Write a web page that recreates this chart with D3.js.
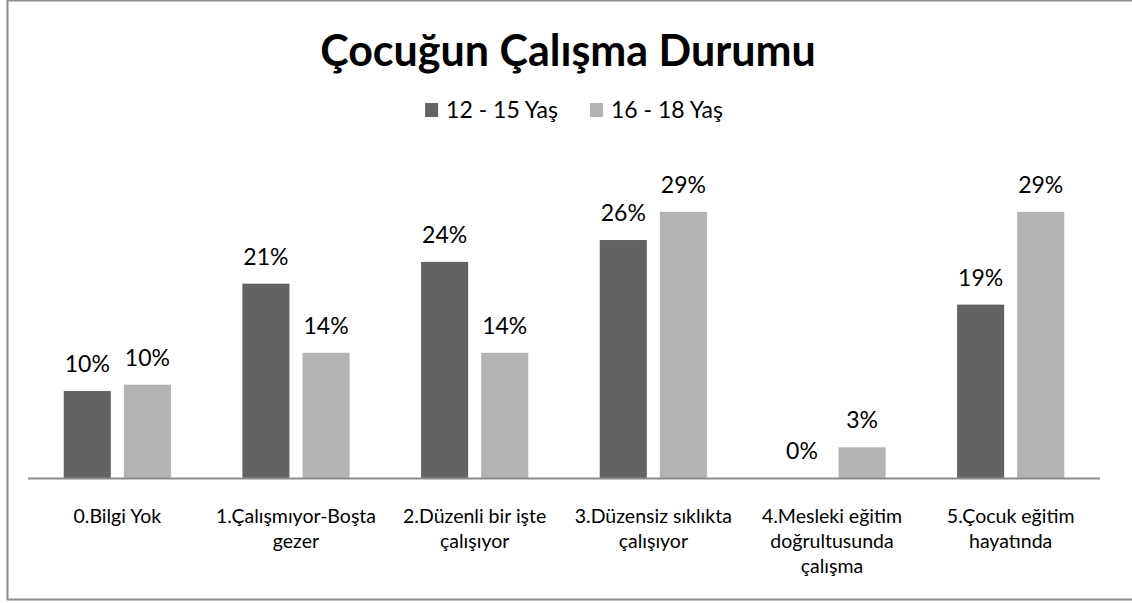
<!DOCTYPE html>
<html>
<head>
<meta charset="utf-8">
<script src="https://cdn.jsdelivr.net/npm/d3@7"></script>
<style>
  body { margin: 0; background: #fff; }
  svg { display: block; font-family: Lato, "Open Sans", sans-serif; }
</style>
</head>
<body>
<div class="graf"></div>
<script>
// data
const categories = [
  "0.Bilgi Yok",
  "1.Çalışmıyor-Boşta\ngezer",
  "2.Düzenli bir işte\nçalışıyor",
  "3.Düzensiz sıklıkta\nçalışıyor",
  "4.Mesleki eğitim\ndoğrultusunda\nçalışma",
  "5.Çocuk eğitim\nhayatında"
];
const seriesNames = ["12 - 15 Yaş", "16 - 18 Yaş"];
const values1215 = [0.096, 0.214, 0.238, 0.262, 0.0, 0.191];
const values1618 = [0.103, 0.138, 0.138, 0.293, 0.034, 0.293];
const colors = ["#636363", "#b3b3b3"];

main()
function main(){
    const width = 1132, height = 603;

    let svg = d3.select('.graf')
        .append('svg')
        .attr('width', width)
        .attr('height', height);

    // frame (right side runs off the picture)
    svg.append('rect')
        .attr('x', 7.5).attr('y', 0.5)
        .attr('width', width + 10).attr('height', 599)
        .attr('fill', 'none')
        .attr('stroke', '#8c8c8c')
        .attr('stroke-width', 2);

    // title
    svg.append('text')
        .attr('x', 568).attr('y', 66)
        .attr('text-anchor', 'middle')
        .attr('font-size', 43)
        .attr('font-weight', 'bold')
        .attr('fill', '#000')
        .text('Çocuğun Çalışma Durumu');

    // legend, centred
    let legG = svg.append('g');
    let lx = 0;
    seriesNames.forEach((name, i) => {
        let g = legG.append('g').attr('transform', `translate(${lx},0)`);
        g.append('rect')
            .attr('x', 0).attr('y', 103)
            .attr('width', 13).attr('height', 14)
            .attr('fill', colors[i]);
        let t = g.append('text')
            .attr('x', 21).attr('y', 118)
            .attr('font-size', 23)
            .attr('fill', '#000')
            .text(name);
        lx += 21 + t.node().getComputedTextLength() + 32;
    });
    let lb = legG.node().getBBox();
    legG.attr('transform', `translate(${574 - lb.width / 2 - lb.x},0)`);

    // scales
    const x0 = d3.scaleBand()
        .domain(categories)
        .range([28, 1100])
        .paddingInner(0.4)
        .paddingOuter(0.2);
    const x1 = d3.scaleBand()
        .domain(seriesNames)
        .range([0, x0.bandwidth()])
        .paddingInner(0.217);
    const y = d3.scaleLinear()
        .domain([0, 0.35])
        .range([478.3, 160]);

    const rows = categories.map((c, i) => ({
        cat: c,
        vals: [values1215[i], values1618[i]]
    }));

    let groups = svg.append('g').selectAll('g')
        .data(rows)
        .join('g')
        .attr('transform', d => `translate(${x0(d.cat)},0)`);

    groups.selectAll('rect')
        .data(d => d.vals.map((v, i) => ({ v, i })))
        .join('rect')
        .attr('x', d => x1(seriesNames[d.i]))
        .attr('y', d => y(d.v))
        .attr('width', x1.bandwidth())
        .attr('height', d => y(0) - y(d.v))
        .attr('fill', d => colors[d.i]);

    groups.selectAll('text.lbl')
        .data(d => d.vals.map((v, i) => ({ v, i })))
        .join('text')
        .attr('class', 'lbl')
        .attr('x', d => x1(seriesNames[d.i]) + x1.bandwidth() / 2)
        .attr('y', d => y(d.v) - 19)
        .attr('text-anchor', 'middle')
        .attr('font-size', 23)
        .attr('fill', '#000')
        .text(d => d3.format('.0%')(d.v));

    // category axis
    svg.append('line')
        .attr('x1', 28).attr('x2', 1100)
        .attr('y1', 478.5).attr('y2', 478.5)
        .attr('stroke', '#8c8c8c')
        .attr('stroke-width', 2);

    let catG = svg.append('g').selectAll('text')
        .data(categories)
        .join('text')
        .attr('x', d => x0(d) + x0.bandwidth() / 2)
        .attr('y', 523)
        .attr('text-anchor', 'middle')
        .attr('font-size', 19.5)
        .attr('fill', '#000');
    catG.selectAll('tspan')
        .data(d => d.split('\n'))
        .join('tspan')
        .attr('x', function(){ return this.parentNode.getAttribute('x'); })
        .attr('dy', (d, i) => i === 0 ? 0 : 25)
        .text(d => d);
}
</script>
</body>
</html>
